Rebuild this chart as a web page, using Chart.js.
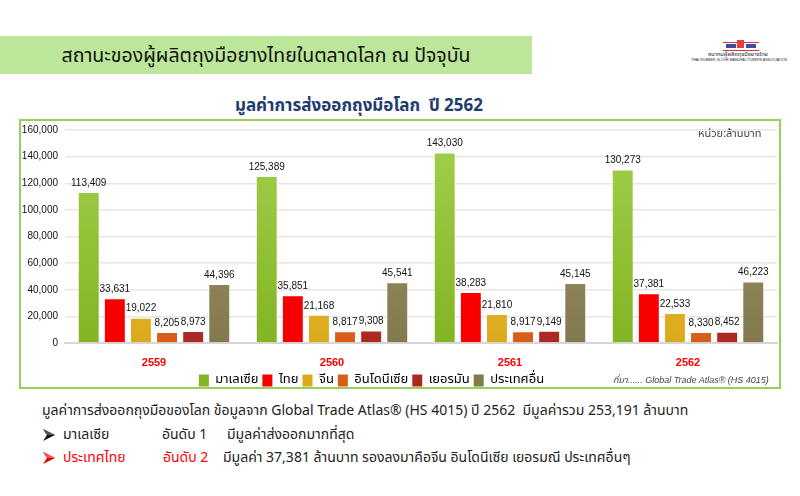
<!DOCTYPE html>
<html>
<head>
<meta charset="utf-8">
<script src="https://cdn.jsdelivr.net/npm/chart.js@4.4.1/dist/chart.umd.min.js"></script>
<style>
  body { margin: 0; width: 800px; height: 496px; background: #fff; position: relative; overflow: hidden;
         font-family: "Noto Sans Thai", Tahoma, "Noto Sans", sans-serif; color: #222; }
  .abs { position: absolute; white-space: nowrap; }
  canvas { display: block; }
  #band { left: 0; top: 36px; width: 532px; height: 38px; background: #bce79b; }
  #band span { position: absolute; left: 0; width: 532px; text-align: center; top: 5px; font-size: 19.5px; color: #111; }
  #title { left: 0; width: 718px; top: 93px; text-align: center; font-size: 17px; font-weight: bold; color: #1f3b70; }
  #box { left: 19px; top: 119px; width: 758px; height: 266px; border: 2px solid #9ccd5b; }
  #wrap { left: 21px; top: 117px; width: 758px; height: 280px; }
  #unit { left: 698px; top: 125px; font-size: 11px; color: #444; }
  #src { left: 613px; top: 373px; font-size: 9px; font-style: italic; color: #444; font-family: "Liberation Sans", Arial, sans-serif; }
  #src .th { font-family: "Noto Sans Thai", Tahoma, sans-serif; }
  .txt { font-size: 14px; }
  .red { color: #ff0000; }
  #logo { left: 686px; top: 40px; width: 104px; height: 26px; }
</style>
</head>
<body>
<div id="band" class="abs"><span>สถานะของผู้ผลิตถุงมือยางไทยในตลาดโลก ณ ปัจจุบัน</span></div>
<div id="logo" class="abs">
  <div class="abs" style="left:37px;top:2px;width:36px;height:7px;border-top:1px solid #d33;border-bottom:1px solid #d33;"></div>
  <div class="abs" style="left:40px;top:4px;width:10px;height:4px;background:#3a4fa0;"></div>
  <div class="abs" style="left:60px;top:4px;width:10px;height:4px;background:#3a4fa0;"></div>
  <div class="abs" style="left:51px;top:0px;width:7px;height:8px;background:#e04040;"></div>
  <div class="abs" style="left:22px;top:10px;font-size:8px;color:#223;transform:scale(0.7);transform-origin:left top;">สมาคมผู้ผลิตถุงมือยางไทย</div>
  <div class="abs" style="left:5px;top:18px;font-size:8px;color:#223;font-family:'Liberation Sans',Arial,sans-serif;transform:scale(0.45);transform-origin:left top;">THAI RUBBER GLOVE MANUFACTURERS ASSOCIATION</div>
</div>
<div id="title" class="abs">มูลค่าการส่งออกถุงมือโลก &nbsp;ปี 2562</div>
<div id="box" class="abs"></div>
<div id="wrap" class="abs"><canvas id="chart" width="758" height="280"></canvas></div>
<div id="unit" class="abs">หน่วย:ล้านบาท</div>
<div id="src" class="abs"><span class="th">ที่มา</span>...... Global Trade Atlas® (HS 4015)</div>

<div class="abs txt" style="left:42px;top:400px;">มูลค่าการส่งออกถุงมือของโลก ข้อมูลจาก Global Trade Atlas® (HS 4015) ปี 2562 &nbsp;มีมูลค่ารวม 253,191 ล้านบาท</div>
<svg class="abs" style="left:43px;top:429px;" width="12" height="12"><polygon points="0,0 12,6 0,12 4,6" fill="#111"/><polygon points="0,0 12,6 4,6" fill="#555"/></svg>
<div class="abs txt" style="left:63px;top:424px;">มาเลเซีย</div>
<div class="abs txt" style="left:162px;top:424px;">อันดับ 1</div>
<div class="abs txt" style="left:227px;top:424px;">มีมูลค่าส่งออกมากที่สุด</div>
<svg class="abs" style="left:43px;top:452px;" width="12" height="12"><polygon points="0,0 12,6 0,12 4,6" fill="#e00000"/><polygon points="0,0 12,6 4,6" fill="#ff5050"/></svg>
<div class="abs txt red" style="left:63px;top:447px;">ประเทศไทย</div>
<div class="abs txt red" style="left:163px;top:447px;">อันดับ 2</div>
<div class="abs txt" style="left:223px;top:447px;">มีมูลค่า 37,381 ล้านบาท รองลงมาคือจีน อินโดนีเซีย เยอรมณี ประเทศอื่นๆ</div>

<script>
var years = ['2559', '2560', '2561', '2562'];
var countries = ['มาเลเซีย', 'ไทย', 'จีน', 'อินโดนีเซีย', 'เยอรมัน', 'ประเทศอื่น'];
var malaysia = [113409, 125389, 143030, 130273];
var thailand = [33631, 35851, 38283, 37381];
var china = [19022, 21168, 21810, 22533];
var indonesia = [8205, 8817, 8917, 8330];
var germany = [8973, 9308, 9149, 8452];
var others = [44396, 45541, 45145, 46223];
var yTicks = [0, 20000, 40000, 60000, 80000, 100000, 120000, 140000, 160000];

// top / bottom colour of each bar gradient
var colours = [
    ['#a3d04e', '#83b423'],
    ['#ff0000', '#f80000'],
    ['#f3ca4e', '#dba91b'],
    ['#ef7c3c', '#d75d18'],
    ['#d04738', '#ab2921'],
    ['#a49c6d', '#827a4d']
];

function gradient(i) {
    return function (ctx) {
        var area = ctx.chart.chartArea;
        if (!area) return colours[i][1];
        var g = ctx.chart.ctx.createLinearGradient(0, area.top, 0, area.bottom);
        g.addColorStop(0, colours[i][0]);
        g.addColorStop(1, colours[i][1]);
        return g;
    };
}

var series = [malaysia, thailand, china, indonesia, germany, others];
var datasets = series.map(function (values, i) {
    return {
        label: countries[i],
        data: values,
        backgroundColor: gradient(i),
        borderColor: 'rgba(255,255,255,0.6)',
        borderWidth: 1,
        categoryPercentage: 0.88,
        barPercentage: 0.84
    };
});

function fmt(v) {
    return v.toLocaleString('en-US');
}

// value labels above each bar
var valueLabels = {
    id: 'valueLabels',
    afterDatasetsDraw: function (chart) {
        var ctx = chart.ctx;
        ctx.save();
        ctx.font = '10px "Liberation Sans", Arial, sans-serif';
        ctx.fillStyle = '#111';
        ctx.textAlign = 'center';
        ctx.textBaseline = 'bottom';
        chart.data.datasets.forEach(function (ds, i) {
            chart.getDatasetMeta(i).data.forEach(function (bar, j) {
                ctx.fillText(fmt(ds.data[j]), bar.x, bar.y - 4);
            });
        });
        ctx.restore();
    }
};

// legend sits a bit left of centre in the original
var legendShift = {
    id: 'legendShift',
    afterLayout: function (chart) {
        chart.legend.left -= 28;
        chart.legend.right -= 28;
    }
};

var ctx = document.getElementById('chart').getContext('2d');
new Chart(ctx, {
    type: 'bar',
    data: { labels: years, datasets: datasets },
    plugins: [valueLabels, legendShift],
    options: {
        responsive: false,
        animation: false,
        layout: { padding: { left: 1, right: 2, top: 8, bottom: 0 } },
        plugins: {
            tooltip: { enabled: false },
            legend: {
                position: 'bottom',
                labels: {
                    boxWidth: 10,
                    boxHeight: 12,
                    padding: 4,
                    color: '#222',
                    font: { family: '"Noto Sans Thai", Tahoma, sans-serif', size: 13 },
                    generateLabels: function (chart) {
                        return countries.map(function (c, i) {
                            return {
                                text: c,
                                fillStyle: colours[i][1],
                                strokeStyle: colours[i][0],
                                lineWidth: 0,
                                datasetIndex: i
                            };
                        });
                    }
                }
            }
        },
        scales: {
            x: {
                grid: { display: false, drawTicks: false },
                border: { color: '#d6d6d6', width: 2 },
                ticks: {
                    color: '#ff0000',
                    padding: 13,
                    font: { family: '"Liberation Sans", Arial, sans-serif', size: 11, weight: 'bold' }
                },
                afterFit: function (s) { s.height = 27; }
            },
            y: {
                min: 0,
                max: 160000,
                afterBuildTicks: function (s) {
                    s.ticks = yTicks.map(function (v) { return { value: v }; });
                },
                grid: { color: '#e6e6e6', lineWidth: 1.5, drawTicks: false },
                border: { display: false },
                ticks: {
                    color: '#111',
                    padding: 7,
                    font: { family: '"Liberation Sans", Arial, sans-serif', size: 10 },
                    callback: function (v) { return fmt(v); }
                },
                afterFit: function (s) { s.width = 43; }
            }
        }
    }
});
</script>
</body>
</html>
